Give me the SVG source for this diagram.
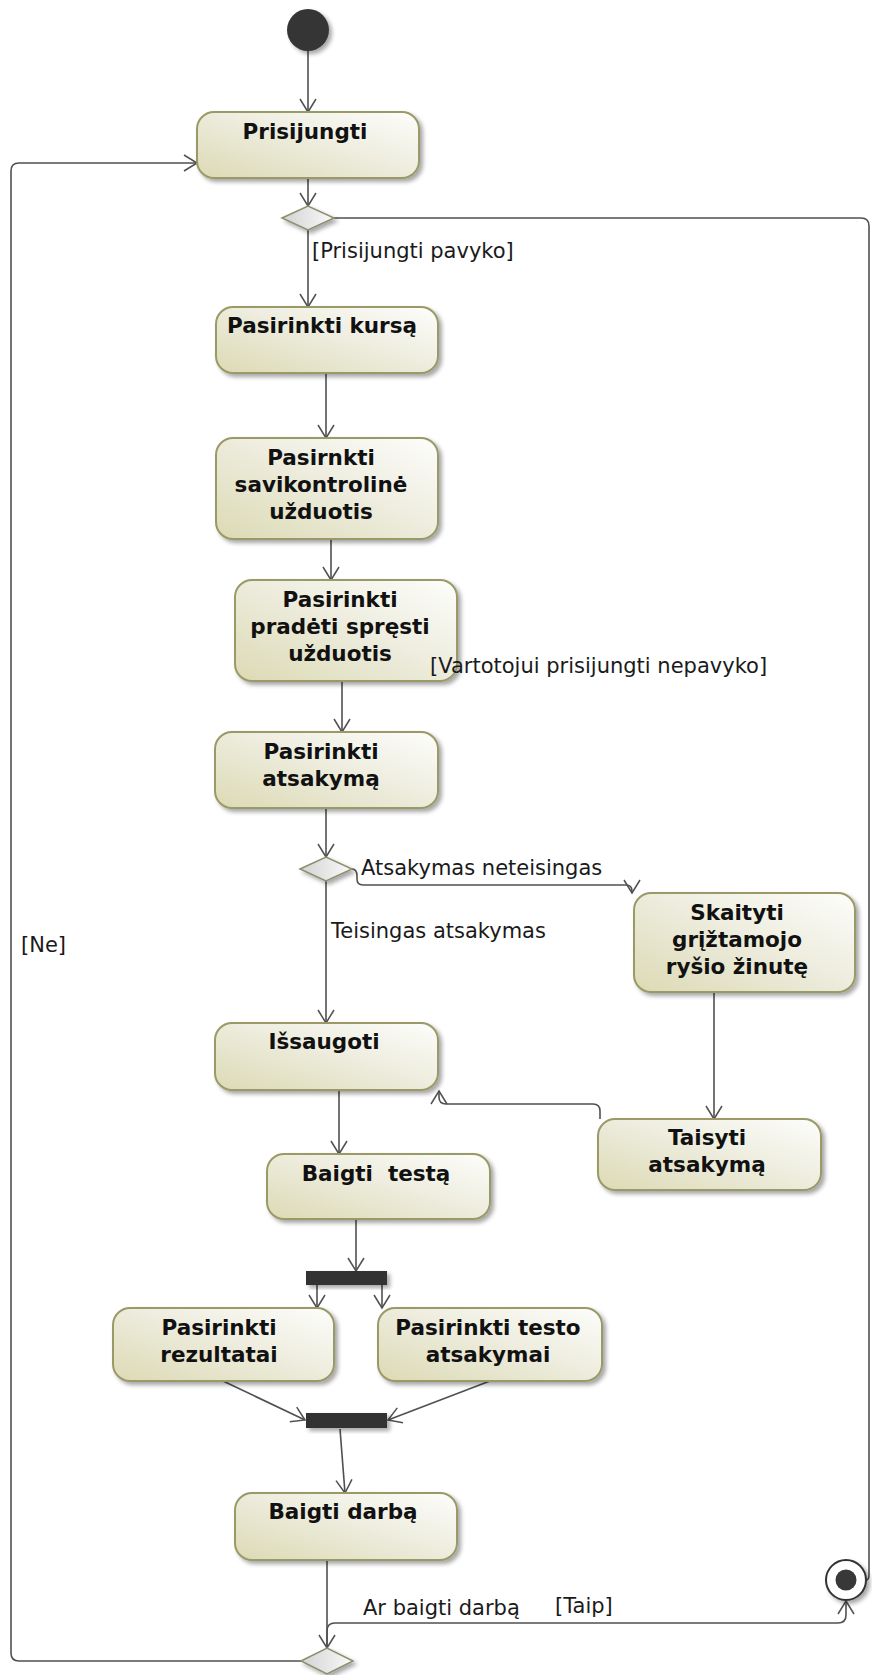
<svg xmlns="http://www.w3.org/2000/svg" width="872" height="1675" viewBox="0 0 872 1675">
  <defs>
    <linearGradient id="nodeFill" x1="0" y1="1" x2="1" y2="0">
      <stop offset="0" stop-color="#dcdab4"/>
      <stop offset="0.55" stop-color="#eeeddf"/>
      <stop offset="1" stop-color="#fdfdfb"/>
    </linearGradient>
    <linearGradient id="decFill" x1="0" y1="0" x2="1" y2="0">
      <stop offset="0" stop-color="#d2d2d2"/>
      <stop offset="1" stop-color="#fafafa"/>
    </linearGradient>
    <filter id="shadow" x="-15%" y="-15%" width="135%" height="150%">
      <feDropShadow dx="3" dy="3" stdDeviation="2" flood-color="#000" flood-opacity="0.35"/>
    </filter>
    <marker id="arrow" markerUnits="userSpaceOnUse" viewBox="-15 -10 17 20" refX="0" refY="0" markerWidth="17" markerHeight="20" orient="auto">
      <path d="M-13,-8 L0,0 L-13,8" fill="none" stroke="#505050" stroke-width="1.5"/>
    </marker>
  </defs>
  <style>
    .node rect { fill: url(#nodeFill); stroke: #9a9a68; stroke-width: 2; filter: url(#shadow); }
    .node text { font-family: "DejaVu Sans", sans-serif; font-weight: bold; font-size: 21.5px; fill: #111; text-anchor: middle; }
    .dec { fill: url(#decFill); stroke: #8e8e6e; stroke-width: 1.5; filter: url(#shadow); }
    .bar { fill: #333; filter: url(#shadow); }
    .edge { fill: none; stroke: #505050; stroke-width: 1.6; marker-end: url(#arrow); }
    .plain { marker-end: none; }
    .lbl { font-family: "DejaVu Sans", sans-serif; font-size: 21px; fill: #1a1a1a; }
  </style>
  <rect width="872" height="1675" fill="#fff"/>

  <!-- control flows -->
  <g id="connectors">
    <path class="edge" d="M308,51 V112"/>
    <path class="edge" d="M308,178 V206"/>
    <path class="edge" d="M308,230 V307"/>
    <path class="edge" d="M326,373 V438"/>
    <path class="edge" d="M331,539 V580"/>
    <path class="edge" d="M342,681 V732"/>
    <path class="edge" d="M326,808 V857"/>
    <path class="edge" d="M326,881 V1023"/>
    <path class="edge" d="M352,869 Q357,869 357,876 L357,879 Q357,885 363,885 L626,885 Q632,885 632,891 L632,893"/>
    <path class="edge" d="M714,992 V1119"/>
    <path class="edge" d="M600,1119 L600,1111 Q600,1104 593,1104 L446,1104 Q439,1104 439,1097 L439,1091"/>
    <path class="edge" d="M339,1090 V1154"/>
    <path class="edge" d="M356,1219 V1271"/>
    <path class="edge" d="M317,1285 V1308"/>
    <path class="edge" d="M382,1285 V1308"/>
    <path class="edge" d="M223,1381 L305,1420"/>
    <path class="edge" d="M490,1381 L388,1420"/>
    <path class="edge" d="M340,1429 L345,1493"/>
    <path class="edge" d="M327,1560 V1648"/>
    <!-- [Taip] -->
    <path class="edge" d="M327,1648 V1631 Q327,1623 335,1623 H838 Q846,1623 846,1615 V1601"/>
    <!-- [Ne] -->
    <path class="edge" d="M301,1661 H19 Q11,1661 11,1653 V171 Q11,163 19,163 H197"/>
    <!-- login failed -->
    <path class="edge plain" d="M334,218 H861 Q869,218 869,226 V1575 Q869,1580 866,1580"/>
  </g>

  <g id="start">
    <circle cx="308" cy="30" r="21" fill="#363636" filter="url(#shadow)"/>
  </g>

  <g id="end" filter="url(#shadow)">
    <circle cx="846" cy="1580" r="20" fill="#fff" stroke="#333" stroke-width="2"/>
    <circle cx="846" cy="1580" r="10.5" fill="#383838"/>
  </g>

  <g id="decision-login">
    <polygon class="dec" points="282,218 308,206 334,218 308,230"/>
  </g>
  <g id="decision-answer">
    <polygon class="dec" points="300,869 326,857 352,869 326,881"/>
  </g>
  <g id="decision-finish">
    <polygon class="dec" points="301,1661 327,1648 353,1661 327,1674"/>
  </g>

  <g id="fork">
    <rect class="bar" x="306" y="1271" width="81" height="14"/>
  </g>
  <g id="join">
    <rect class="bar" x="306" y="1413" width="81" height="15"/>
  </g>

  <g id="prisijungti" class="node">
    <rect x="197" y="112" width="222" height="66" rx="17"/>
    <text x="305" y="139">Prisijungti</text>
  </g>
  <g id="pasirinkti-kursa" class="node">
    <rect x="216" y="307" width="222" height="66" rx="17"/>
    <text x="322" y="333">Pasirinkti kursą</text>
  </g>
  <g id="savikontroline" class="node">
    <rect x="216" y="438" width="222" height="101" rx="17"/>
    <text><tspan x="321" y="465">Pasirnkti</tspan><tspan x="321" y="492">savikontrolinė</tspan><tspan x="321" y="519">užduotis</tspan></text>
  </g>
  <g id="pradeti-spresti" class="node">
    <rect x="235" y="580" width="222" height="101" rx="17"/>
    <text><tspan x="340" y="607">Pasirinkti</tspan><tspan x="340" y="634">pradėti spręsti</tspan><tspan x="340" y="661">užduotis</tspan></text>
  </g>
  <g id="pasirinkti-atsakyma" class="node">
    <rect x="215" y="732" width="223" height="76" rx="17"/>
    <text><tspan x="321" y="759">Pasirinkti</tspan><tspan x="321" y="786">atsakymą</tspan></text>
  </g>
  <g id="skaityti" class="node">
    <rect x="634" y="893" width="221" height="99" rx="17"/>
    <text><tspan x="737" y="920">Skaityti</tspan><tspan x="737" y="947">grįžtamojo</tspan><tspan x="737" y="974">ryšio žinutę</tspan></text>
  </g>
  <g id="issaugoti" class="node">
    <rect x="215" y="1023" width="223" height="67" rx="17"/>
    <text x="324" y="1049">Išsaugoti</text>
  </g>
  <g id="taisyti" class="node">
    <rect x="598" y="1119" width="223" height="71" rx="17"/>
    <text><tspan x="707" y="1145">Taisyti</tspan><tspan x="707" y="1172">atsakymą</tspan></text>
  </g>
  <g id="baigti-testa" class="node">
    <rect x="267" y="1154" width="223" height="65" rx="17"/>
    <text x="376" y="1181" xml:space="preserve">Baigti  testą</text>
  </g>
  <g id="rezultatai" class="node">
    <rect x="113" y="1308" width="221" height="73" rx="17"/>
    <text><tspan x="219" y="1335">Pasirinkti</tspan><tspan x="219" y="1362">rezultatai</tspan></text>
  </g>
  <g id="testo-atsakymai" class="node">
    <rect x="378" y="1308" width="224" height="73" rx="17"/>
    <text><tspan x="488" y="1335">Pasirinkti testo</tspan><tspan x="488" y="1362">atsakymai</tspan></text>
  </g>
  <g id="baigti-darba" class="node">
    <rect x="235" y="1493" width="222" height="67" rx="17"/>
    <text x="343" y="1519">Baigti darbą</text>
  </g>

  <g id="labels" class="lbl">
    <text x="312" y="258">[Prisijungti pavyko]</text>
    <text x="430" y="673">[Vartotojui prisijungti nepavyko]</text>
    <text x="361" y="875">Atsakymas neteisingas</text>
    <text x="331" y="938">Teisingas atsakymas</text>
    <text x="21" y="952">[Ne]</text>
    <text x="363" y="1615">Ar baigti darbą</text>
    <text x="555" y="1613">[Taip]</text>
  </g>
</svg>
